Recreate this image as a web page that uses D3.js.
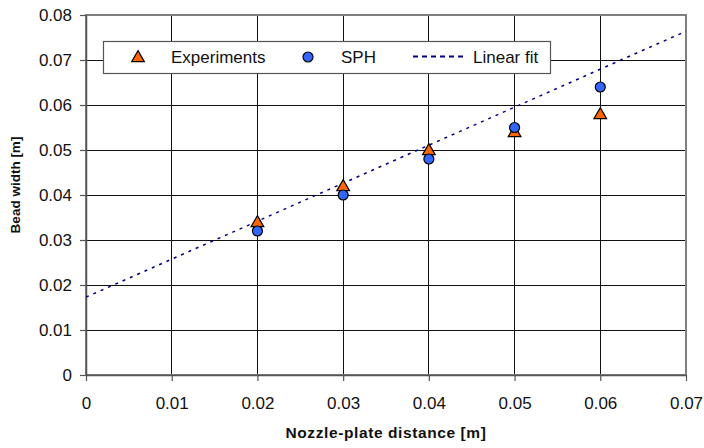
<!DOCTYPE html>
<html><head><meta charset="utf-8">
<script src="https://cdn.jsdelivr.net/npm/d3@7"></script>
<style>body{margin:0;background:#fff}svg{display:block;font-family:"Liberation Sans",Arial,sans-serif}</style>
</head><body><svg id="c" width="704" height="448"></svg>
<script>
const distance = [0.02, 0.03, 0.04, 0.05, 0.06];
const experiments = [0.034, 0.042, 0.050, 0.054, 0.058];
const sph = [0.032, 0.040, 0.048, 0.055, 0.064];
const fitX = [0, 0.07];
const fitY = [0.0173, 0.0764];
const xTicks = [0, 0.01, 0.02, 0.03, 0.04, 0.05, 0.06, 0.07];
const yTicks = [0, 0.01, 0.02, 0.03, 0.04, 0.05, 0.06, 0.07, 0.08];
const legendLabels = ["Experiments", "SPH", "Linear fit"];

const svg = d3.select("#c");
const m = {l: 86, r: 686, t: 15, b: 375};
const x = d3.scaleLinear().domain([0, 0.07]).range([m.l, m.r]);
const y = d3.scaleLinear().domain([0, 0.08]).range([m.b, m.t]);

// grid
svg.append("g").selectAll("line").data(yTicks.slice(1)).join("line")
  .attr("x1", m.l).attr("x2", m.r).attr("y1", d => y(d)).attr("y2", d => y(d))
  .attr("stroke", "#111").attr("stroke-width", 1).attr("shape-rendering", "crispEdges");
svg.append("g").selectAll("line").data(xTicks.slice(1)).join("line")
  .attr("y1", m.t).attr("y2", m.b).attr("x1", d => x(d)).attr("x2", d => x(d))
  .attr("stroke", "#111").attr("stroke-width", 1).attr("shape-rendering", "crispEdges");
// border
svg.append("rect").attr("x", m.l).attr("y", m.t).attr("width", m.r - m.l).attr("height", m.b - m.t)
  .attr("fill", "none").attr("stroke", "#808080").attr("stroke-width", 1.2).attr("shape-rendering", "crispEdges");

// axes
const fmt = d => d === 0 ? "0" : d3.format(".2f")(d);
const xa = svg.append("g").attr("transform", `translate(0,${m.b})`)
  .call(d3.axisBottom(x).tickValues(xTicks).tickFormat(fmt).tickSizeInner(6).tickSizeOuter(0).tickPadding(16));
const ya = svg.append("g").attr("transform", `translate(${m.l},0)`)
  .call(d3.axisLeft(y).tickValues(yTicks).tickFormat(fmt).tickSizeInner(6).tickSizeOuter(0).tickPadding(8));
[xa, ya].forEach(a => {
  a.select(".domain").attr("stroke", "#555").attr("stroke-width", 1.5);
  a.selectAll(".tick line").attr("stroke", "#555").attr("stroke-width", 1.2);
  a.selectAll(".tick text").attr("font-size", 17).attr("fill", "#111")
    .attr("font-family", "Liberation Sans, Arial, sans-serif");
});

// fit line
const line = d3.line().x(d => x(d[0])).y(d => y(d[1]));
svg.append("path").datum(fitX.map((v, i) => [v, fitY[i]])).attr("d", line)
  .attr("fill", "none").attr("stroke", "#000080").attr("stroke-width", 1.5).attr("stroke-dasharray", "3,5");

const tri = d3.symbol().type(d3.symbolTriangle).size(70);
svg.append("g").selectAll("path").data(distance).join("path")
  .attr("d", tri).attr("transform", (d, i) => `translate(${x(d)},${y(experiments[i]) + 1})`)
  .attr("fill", "#FF6600").attr("stroke", "#000").attr("stroke-width", 1.2);
svg.append("g").selectAll("circle").data(distance).join("circle")
  .attr("cx", d => x(d)).attr("cy", (d, i) => y(sph[i])).attr("r", 5)
  .attr("fill", "#3366FF").attr("stroke", "#000").attr("stroke-width", 1.2);

// legend
const lg = svg.append("g");
lg.append("rect").attr("x", 103.5).attr("y", 41.5).attr("width", 447).attr("height", 32)
  .attr("fill", "#fff").attr("stroke", "#555").attr("stroke-width", 1.2);
lg.append("path").attr("d", tri).attr("transform", "translate(138,58)")
  .attr("fill", "#FF6600").attr("stroke", "#000").attr("stroke-width", 1.2);
lg.append("circle").attr("cx", 308).attr("cy", 57).attr("r", 5)
  .attr("fill", "#3366FF").attr("stroke", "#000").attr("stroke-width", 1.2);
lg.append("line").attr("x1", 413).attr("x2", 464).attr("y1", 56.5).attr("y2", 56.5)
  .attr("stroke", "#000080").attr("stroke-width", 2).attr("stroke-dasharray", "5,4");
const lx = [171, 341, 473];
lg.selectAll("text").data(legendLabels).join("text")
  .attr("x", (d, i) => lx[i]).attr("y", 63).attr("font-size", 17).attr("fill", "#111").text(d => d);

// titles
svg.append("text").attr("x", (m.l + m.r) / 2).attr("y", 438).attr("text-anchor", "middle")
  .attr("font-size", 15.5).attr("font-weight", "bold").attr("letter-spacing", 0.6).attr("fill", "#111")
  .text("Nozzle-plate distance [m]");
svg.append("text").attr("transform", "translate(20,185) rotate(-90)").attr("text-anchor", "middle")
  .attr("font-size", 13.5).attr("font-weight", "bold").attr("fill", "#111")
  .text("Bead width [m]");
</script></body></html>
